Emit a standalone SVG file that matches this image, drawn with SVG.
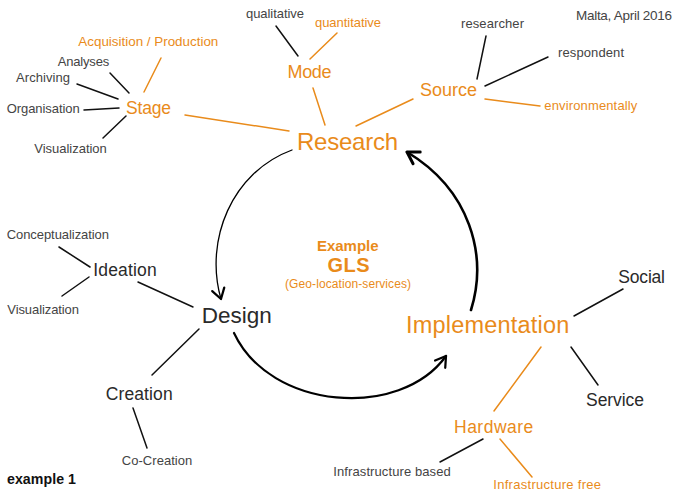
<svg xmlns="http://www.w3.org/2000/svg" width="674" height="492" viewBox="0 0 674 492">
<style>
text{font-family:"Liberation Sans",Arial,sans-serif;}
.o{fill:#E98B1B;}
.g{fill:#444;}
.k{fill:#2a2a2a;}
.b{font-weight:bold;}
.lk{stroke:#111;stroke-width:1.5;fill:none;stroke-linecap:round;}
.lo{stroke:#E98B1B;stroke-width:1.5;fill:none;stroke-linecap:round;}
.arc{stroke:#000;fill:none;stroke-linecap:round;}
</style>
<defs>
<marker id="ahThin" markerUnits="userSpaceOnUse" markerWidth="20" markerHeight="20" refX="0" refY="0" viewBox="-12 -8 14 16" orient="auto">
<path d="M-8,-5 L0,0 L-8,5" fill="none" stroke="#000" stroke-width="1.8" stroke-linecap="round" stroke-linejoin="round"/>
</marker>
<marker id="ahThick" markerUnits="userSpaceOnUse" markerWidth="20" markerHeight="20" refX="0" refY="0" viewBox="-12 -8 14 16" orient="auto">
<path d="M-9,-5.5 L0,0 L-9,5.5" fill="none" stroke="#000" stroke-width="2.4" stroke-linecap="round" stroke-linejoin="round"/>
</marker>
</defs>

<g id="connectors">
<!-- cycle arcs -->
<path class="arc" stroke-width="1.3" d="M292,150 C232,172 204,240 221,299" marker-end="url(#ahThin)"/>
<path class="arc" stroke-width="2.2" d="M234,333 C270,410 400,420 446,356" marker-end="url(#ahThin)"/>
<path class="arc" stroke-width="2.6" d="M471,310 C488,255 470,190 407,152" marker-end="url(#ahThick)"/>
<!-- Research branches -->
<line class="lk" x1="276" y1="26" x2="298" y2="56"/>
<line class="lo" x1="337" y1="33" x2="310" y2="59"/>
<line class="lo" x1="313" y1="88" x2="325" y2="125"/>
<line class="lo" x1="161" y1="58" x2="144" y2="92"/>
<line class="lk" x1="110" y1="73" x2="129" y2="93"/>
<line class="lk" x1="77" y1="84" x2="118" y2="99"/>
<line class="lk" x1="84" y1="110" x2="119" y2="108"/>
<line class="lk" x1="103" y1="138" x2="126" y2="116"/>
<line class="lo" x1="185" y1="115" x2="289" y2="131"/>
<line class="lk" x1="486" y1="36" x2="477" y2="79"/>
<line class="lk" x1="548" y1="57" x2="485" y2="86"/>
<line class="lo" x1="485" y1="99" x2="540" y2="106"/>
<line class="lo" x1="413" y1="99" x2="356" y2="126"/>
<!-- Design branches -->
<line class="lk" x1="59" y1="247" x2="90" y2="267"/>
<line class="lk" x1="62" y1="296" x2="89" y2="277"/>
<line class="lk" x1="138" y1="282" x2="193" y2="307"/>
<line class="lk" x1="199" y1="329" x2="152" y2="375"/>
<line class="lk" x1="133" y1="408" x2="147" y2="448"/>
<!-- Implementation branches -->
<line class="lk" x1="623" y1="289" x2="574" y2="316"/>
<line class="lk" x1="571" y1="347" x2="598" y2="385"/>
<line class="lo" x1="541" y1="347" x2="494" y2="411"/>
<line class="lk" x1="483" y1="439" x2="440" y2="462"/>
<line class="lo" x1="500" y1="439" x2="532" y2="477"/>
</g>

<text class="g" x="576" y="20" font-size="13.5" textLength="96">Malta, April 2016</text>
<text class="b" x="7" y="483.5" font-size="14.2" fill="#111" textLength="69">example 1</text>

<g id="center">
<text class="o b" x="317" y="251" font-size="15" textLength="61.5">Example</text>
<text class="o b" x="327.5" y="271.5" font-size="20" textLength="42">GLS</text>
<text class="o" x="285" y="287.5" font-size="12" textLength="126">(Geo-location-services)</text>
</g>

<g id="research"><text class="o" x="297" y="150" font-size="24" textLength="101">Research</text></g>
<g id="mode"><text class="o" x="287.5" y="78.3" font-size="18" textLength="44">Mode</text></g>
<g id="qualitative"><text class="g" x="246" y="18.3" font-size="13" textLength="58">qualitative</text></g>
<g id="quantitative"><text class="o" x="315" y="26.7" font-size="13" textLength="66">quantitative</text></g>
<g id="stage"><text class="o" x="126" y="114.3" font-size="17.5" textLength="45">Stage</text></g>
<g id="acquisition"><text class="o" x="78.3" y="45.7" font-size="13.4" textLength="140">Acquisition / Production</text></g>
<g id="analyses"><text class="g" x="57.7" y="65.7" font-size="13" textLength="51.5">Analyses</text></g>
<g id="archiving"><text class="g" x="16" y="82.3" font-size="13" textLength="54">Archiving</text></g>
<g id="organisation"><text class="g" x="6.7" y="112.7" font-size="13" textLength="73">Organisation</text></g>
<g id="visualization1"><text class="g" x="34.3" y="153.3" font-size="13" textLength="72.5">Visualization</text></g>
<g id="source"><text class="o" x="420" y="96" font-size="18" textLength="57">Source</text></g>
<g id="researcher"><text class="g" x="461" y="28.3" font-size="13" textLength="63">researcher</text></g>
<g id="respondent"><text class="g" x="558" y="57.3" font-size="13" textLength="66">respondent</text></g>
<g id="environmentally"><text class="o" x="544.3" y="110" font-size="13" textLength="93">environmentally</text></g>

<g id="design"><text class="k" x="201.7" y="323" font-size="22.5" textLength="70">Design</text></g>
<g id="ideation"><text class="k" x="93.3" y="276" font-size="17.5" textLength="63.4">Ideation</text></g>
<g id="conceptualization"><text class="g" x="6.7" y="239.3" font-size="13" textLength="102.3">Conceptualization</text></g>
<g id="visualization2"><text class="g" x="7.3" y="314" font-size="13" textLength="71.7">Visualization</text></g>
<g id="creation"><text class="k" x="105.7" y="400" font-size="17.5" textLength="67">Creation</text></g>
<g id="cocreation"><text class="g" x="121.7" y="465" font-size="13" textLength="70.6">Co-Creation</text></g>

<g id="implementation"><text class="o" x="406" y="333.3" font-size="23.5" textLength="163.3">Implementation</text></g>
<g id="social"><text class="k" x="618.3" y="283.3" font-size="17.5" textLength="46.7">Social</text></g>
<g id="service"><text class="k" x="586" y="405.7" font-size="17.5" textLength="58">Service</text></g>
<g id="hardware"><text class="o" x="454" y="433.3" font-size="17.5" textLength="79.3">Hardware</text></g>
<g id="infra-based"><text class="g" x="333.3" y="475.7" font-size="13" textLength="117.4">Infrastructure based</text></g>
<g id="infra-free"><text class="o" x="493.3" y="489" font-size="13" textLength="107.7">Infrastructure free</text></g>
</svg>
